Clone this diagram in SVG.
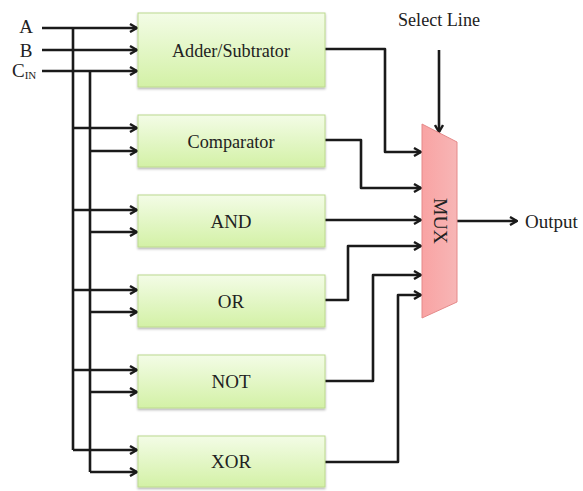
<svg xmlns="http://www.w3.org/2000/svg" width="583" height="491" viewBox="0 0 583 491">
<style>
.box{fill:url(#g);stroke:#bcd98f;stroke-width:1;filter:url(#sh)}
.lbl{font-family:"Liberation Serif","Times New Roman",serif;font-size:19px;fill:#222;text-anchor:middle;dominant-baseline:central}
.w{fill:none;stroke:#1a1a1a;stroke-width:2.6;stroke-linejoin:round}
.a{marker-end:url(#ar)}
</style>
<defs>
<linearGradient id="g" x1="0" y1="0" x2="0" y2="1"><stop offset="0" stop-color="#f3fce6"/><stop offset="1" stop-color="#d3f1a6"/></linearGradient>
<linearGradient id="mg" x1="0" y1="0" x2="1" y2="0"><stop offset="0" stop-color="#f9a3a3"/><stop offset="1" stop-color="#f7b6b6"/></linearGradient>
<filter id="sh" x="-10%" y="-10%" width="120%" height="130%"><feDropShadow dx="0" dy="1.5" stdDeviation="1.2" flood-color="#000" flood-opacity="0.3"/></filter>
<marker id="ar" viewBox="0 0 10 10" refX="9" refY="5" markerWidth="10" markerHeight="10" markerUnits="userSpaceOnUse" orient="auto"><path d="M2,1 L9,5 L2,9" fill="none" stroke="#1a1a1a" stroke-width="2.4" stroke-linejoin="miter"/></marker>
</defs>
<g id="connectors">
<path class="w a" d="M42,28 H137"/>
<path class="w a" d="M42,50 H137"/>
<path class="w a" d="M42,71 H137"/>
<path class="w" d="M73,28 V450"/>
<path class="w" d="M90,71 V472"/>
<path class="w a" d="M73,128 H137"/>
<path class="w a" d="M90,151 H137"/>
<path class="w a" d="M73,210 H137"/>
<path class="w a" d="M90,232 H137"/>
<path class="w a" d="M73,290 H137"/>
<path class="w a" d="M90,312 H137"/>
<path class="w a" d="M73,370 H137"/>
<path class="w a" d="M90,392 H137"/>
<path class="w a" d="M73,450 H137"/>
<path class="w a" d="M90,472 H137"/>
<path class="w a" d="M325,49 H385 V152 H421"/>
<path class="w a" d="M325,140 H361 V188 H421"/>
<path class="w a" d="M325,220 H421"/>
<path class="w a" d="M325,300 H348 V246 H421"/>
<path class="w a" d="M325,381 H373 V275 H421"/>
<path class="w a" d="M325,462 H398 V295 H421"/>
<path class="w a" d="M439,50 V132"/>
<path class="w a" d="M457,221 H517"/>
</g>
<g id="adder"><rect class="box" x="138" y="13" width="187" height="74"/><text class="lbl" x="231" y="50" textLength="118" lengthAdjust="spacingAndGlyphs">Adder/Subtrator</text></g>
<g id="comparator"><rect class="box" x="138" y="115" width="187" height="52"/><text class="lbl" x="231" y="141" textLength="87" lengthAdjust="spacingAndGlyphs">Comparator</text></g>
<g id="and"><rect class="box" x="138" y="195" width="187" height="52"/><text class="lbl" x="231" y="221">AND</text></g>
<g id="or"><rect class="box" x="138" y="275" width="187" height="52"/><text class="lbl" x="231" y="301">OR</text></g>
<g id="not"><rect class="box" x="138" y="355" width="187" height="53"/><text class="lbl" x="231" y="381">NOT</text></g>
<g id="xor"><rect class="box" x="138" y="436" width="187" height="51"/><text class="lbl" x="231" y="461">XOR</text></g>
<g id="mux"><path d="M422,124 L457,142 L457,302 L422,318 Z" fill="url(#mg)" stroke="#e58a8a" stroke-width="1"/><text class="lbl" transform="translate(440,221) rotate(90)" textLength="46" lengthAdjust="spacingAndGlyphs">MUX</text></g>
<g id="inputs">
<text class="lbl" x="26" y="26">A</text>
<text class="lbl" x="26" y="50">B</text>
<text class="lbl" x="12" y="70" style="text-anchor:start">C<tspan font-size="11" dy="5">IN</tspan></text>
</g>
<g id="labels">
<text class="lbl" x="439" y="19" textLength="82" lengthAdjust="spacingAndGlyphs">Select Line</text>
<text class="lbl" x="525" y="221" style="text-anchor:start">Output</text>
</g>
</svg>
